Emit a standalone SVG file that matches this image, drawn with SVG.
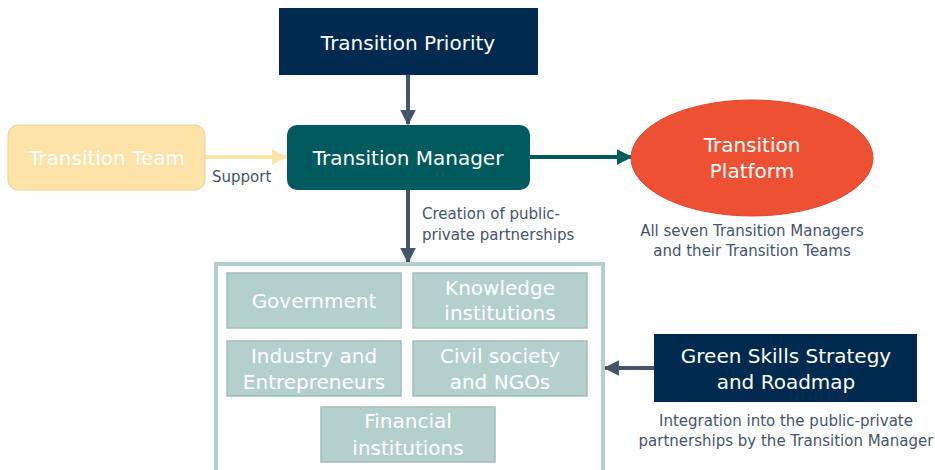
<svg xmlns="http://www.w3.org/2000/svg" width="935" height="470" viewBox="0 0 935 470">
<style>
text{font-family:"DejaVu Sans",sans-serif}
.w{fill:#fff;font-size:20px;text-anchor:middle}
.c{fill:#44546a;font-size:15px}
.m{text-anchor:middle}
.inner{fill:#b4d0cc;stroke:#9fbfbb;stroke-width:1.5}
</style>
<defs>
<marker id="ab" viewBox="0 0 10 10" refX="9" refY="5" markerWidth="4" markerHeight="4" orient="auto" markerUnits="strokeWidth"><path d="M0,0 L10,5 L0,10 z" fill="#44546a"/></marker>
<marker id="at" viewBox="0 0 10 10" refX="9" refY="5" markerWidth="4" markerHeight="4" orient="auto" markerUnits="strokeWidth"><path d="M0,0 L10,5 L0,10 z" fill="#005a5e"/></marker>
<marker id="ay" viewBox="0 0 10 10" refX="9" refY="5" markerWidth="4" markerHeight="4" orient="auto" markerUnits="strokeWidth"><path d="M0,0 L10,5 L0,10 z" fill="#fde3a7"/></marker>
</defs>
<g id="connectors">
<line x1="408" y1="75" x2="408" y2="124" stroke="#44546a" stroke-width="4" marker-end="url(#ab)"/>
<line x1="205" y1="157" x2="286" y2="157" stroke="#fde3a7" stroke-width="4" marker-end="url(#ay)"/>
<line x1="530" y1="157" x2="631" y2="157" stroke="#005a5e" stroke-width="4" marker-end="url(#at)"/>
<line x1="408" y1="190" x2="408" y2="262" stroke="#44546a" stroke-width="4" marker-end="url(#ab)"/>
<line x1="654" y1="368" x2="605" y2="368" stroke="#44546a" stroke-width="4" marker-end="url(#ab)"/>
<text class="c" x="212" y="182">Support</text>
<text class="c" x="422" y="219">Creation of public-</text>
<text class="c" x="422" y="240">private partnerships</text>
</g>
<g id="priority">
<rect x="279" y="8" width="259" height="67" fill="#002a50"/>
<text class="w" x="408" y="50">Transition Priority</text>
</g>
<g id="team">
<rect x="8" y="125" width="197" height="65" rx="10" fill="#fde3a7" stroke="#ead29a" stroke-width="1"/>
<text class="w" x="107" y="165">Transition Team</text>
</g>
<g id="manager">
<rect x="287" y="125" width="243" height="65" rx="10" fill="#005a5e"/>
<text class="w" x="408" y="165">Transition Manager</text>
</g>
<g id="platform">
<ellipse cx="752" cy="158" rx="121" ry="58" fill="#ee5034" stroke="#d84a30" stroke-width="1"/>
<text class="w" x="752" y="152">Transition</text>
<text class="w" x="752" y="178">Platform</text>
<text class="c m" x="752" y="236">All seven Transition Managers</text>
<text class="c m" x="752" y="256">and their Transition Teams</text>
</g>
<g id="ppp">
<rect x="216" y="264" width="387" height="215" fill="#fff" stroke="#b4d0cd" stroke-width="4"/>
</g>
<g id="government">
<rect class="inner" x="227" y="273" width="174" height="55"/>
<text class="w" x="314" y="308">Government</text>
</g>
<g id="knowledge">
<rect class="inner" x="413" y="273" width="174" height="55"/>
<text class="w" x="500" y="295">Knowledge</text>
<text class="w" x="500" y="320">institutions</text>
</g>
<g id="industry">
<rect class="inner" x="227" y="341" width="174" height="55"/>
<text class="w" x="314" y="363">Industry and</text>
<text class="w" x="314" y="389">Entrepreneurs</text>
</g>
<g id="civil">
<rect class="inner" x="413" y="341" width="174" height="55"/>
<text class="w" x="500" y="363">Civil society</text>
<text class="w" x="500" y="389">and NGOs</text>
</g>
<g id="financial">
<rect class="inner" x="321" y="407" width="174" height="55"/>
<text class="w" x="408" y="428">Financial</text>
<text class="w" x="408" y="455">institutions</text>
</g>
<g id="greenskills">
<rect x="654" y="334" width="263" height="68" fill="#002a50"/>
<text class="w" x="786" y="363">Green Skills Strategy</text>
<text class="w" x="786" y="389">and Roadmap</text>
<text class="c m" x="786" y="426">Integration into the public-private</text>
<text class="c m" x="786" y="446">partnerships by the Transition Manager</text>
</g>
</svg>
